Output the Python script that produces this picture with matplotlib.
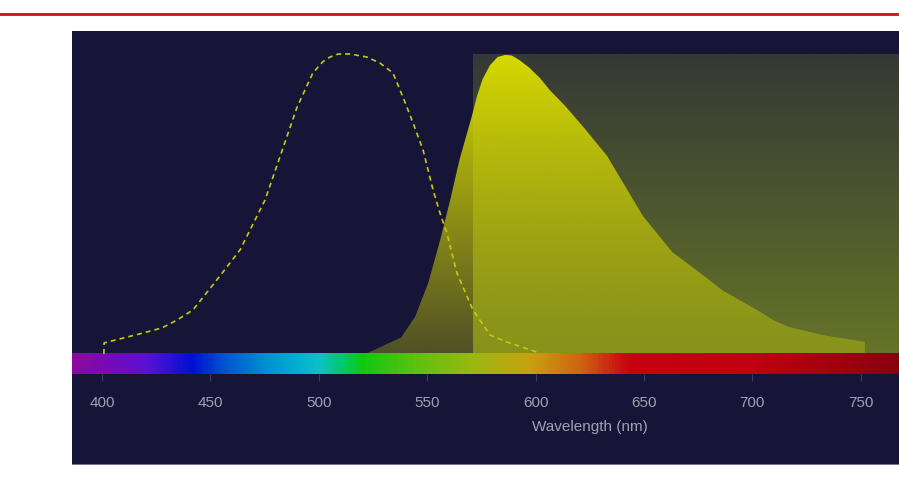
import numpy as np
import matplotlib
matplotlib.use("Agg")
import matplotlib.pyplot as plt
from matplotlib.colors import LinearSegmentedColormap, to_rgb
from matplotlib.patches import Rectangle, Polygon
from matplotlib.lines import Line2D

plt.rcParams['font.family'] = ['Liberation Sans', 'DejaVu Sans']

# emission spectrum (filled)
em_nm = [521.5, 538, 544.5, 550.5, 556, 560.5, 565, 570.5, 573, 575.5, 579, 582.5,
         586, 589, 592.5, 597, 602, 606.5, 614, 622, 633, 640, 649.5, 663, 679,
         686, 703.5, 709.5, 717, 732.5, 752]
em_val = [0.0, 0.055, 0.125, 0.237, 0.38, 0.51, 0.65, 0.79, 0.86, 0.915, 0.963, 0.99,
          0.997, 0.995, 0.98, 0.955, 0.92, 0.88, 0.824, 0.757, 0.66, 0.575, 0.46, 0.34, 0.253,
          0.213, 0.141, 0.113, 0.09, 0.063, 0.04]

# excitation spectrum (dashed)
ex_nm = [400.9, 401, 419, 427.7, 434.6, 442, 447.5, 453, 463.7, 475.2, 482.1, 490,
         497.3, 502, 505.2, 509, 514.4, 522.2, 528.2, 534.2, 538.8, 543.5, 548.1,
         552.7, 555.9, 559.1, 563.7, 571.1, 579, 586.8, 602]
ex_val = [0.0, 0.037, 0.07, 0.087, 0.113, 0.147, 0.197, 0.247, 0.347, 0.513, 0.657, 0.823,
          0.937, 0.975, 0.99, 1.0, 1.0, 0.99, 0.97, 0.937, 0.857, 0.77, 0.68,
          0.547, 0.47, 0.403, 0.27, 0.147, 0.063, 0.04, 0.003]

# long-pass filter
filter_start = 571.1

# visible spectrum strip
spec_nm = [386, 400, 420, 441, 455, 475, 490, 500, 510, 520, 545, 570, 598, 622, 640, 645, 700, 730, 768]
spec_col = ['#8a0a9c', '#7a0ab4', '#5a12d4', '#0010d0', '#0050d0', '#0090d0', '#00b0d0',
            '#10c0c8', '#00c870', '#10c810', '#60c010', '#98b810', '#c8a010', '#d06010',
            '#c81010', '#c80010', '#c00010', '#a80010', '#880010']

ticks = [400, 450, 500, 550, 600, 650, 700, 750]

W, H = 899, 486
fig = plt.figure(figsize=(W / 100, H / 100), dpi=100)
fig.patch.set_facecolor('white')

bg = '#161537'
fig.patches.append(Rectangle((72 / W, 22 / H), 827 / W, 433 / H, transform=fig.transFigure,
                             facecolor=bg, edgecolor='none', zorder=-5))
for yp in (31, 464):
    fig.add_artist(Line2D([72 / W, 1], [(H - yp) / H] * 2, transform=fig.transFigure,
                          color='#5c5c7a', lw=0.6, zorder=-4))
fig.add_artist(Line2D([0, 1], [(H - 14) / H] * 2, transform=fig.transFigure,
                      color='#d0101c', lw=2))

ax = fig.add_axes([72 / W, 112 / H, 827 / W, 343 / H])
ax.set_facecolor(bg)
x0, x1 = 386.2, 767.6
y0, y1 = -0.0667, 1.0767

# filter rectangle gradient
top = np.array(to_rgb('#353935'))
bot = np.array(to_rgb('#667428'))
t = np.linspace(0, 1, 256)[:, None]
grad = top * (1 - t) + bot * t
ax.imshow(grad[:, None, :].repeat(2, axis=1), extent=[filter_start, x1 + 5, 0, 1],
          aspect='auto', zorder=1, interpolation='bilinear')

# emission fill, yellow fading toward bottom
poly = Polygon(np.column_stack([[em_nm[0]] + em_nm + [em_nm[-1]], [0] + em_val + [0]]),
               facecolor='none', edgecolor='none')
ax.add_patch(poly)
rgba = np.zeros((256, 2, 4))
rgba[..., 0] = 215 / 255
rgba[..., 1] = 218 / 255
rgba[..., 2] = 0
alpha = 1.0 - 0.7 * np.linspace(0, 1, 256)
rgba[..., 3] = alpha[:, None]
img = ax.imshow(rgba, extent=[em_nm[0], em_nm[-1], 0, 1], aspect='auto', zorder=2,
                interpolation='bilinear')
img.set_clip_path(poly)

# excitation dashed
ax.plot(ex_nm, ex_val, color='#c8c812', lw=1.2, ls=(0, (3, 2.4)), zorder=4)

# spectrum strip
cmap = LinearSegmentedColormap.from_list(
    'vis', [((n - spec_nm[0]) / (spec_nm[-1] - spec_nm[0]), c) for n, c in zip(spec_nm, spec_col)])
xs = np.linspace(spec_nm[0], spec_nm[-1], 800)
ax.imshow(xs[None, :], cmap=cmap, vmin=spec_nm[0], vmax=spec_nm[-1],
          extent=[spec_nm[0], spec_nm[-1], y0, 0], aspect='auto', zorder=3)

ax.set_xlim(x0, x1)
ax.set_ylim(y0, y1)
for s in ax.spines.values():
    s.set_visible(False)
ax.set_yticks([])
ax.set_xticks(ticks)
ax.tick_params(axis='x', direction='out', length=5, width=0.8, color='#3c3c6e',
               labelcolor='#a0a0b0', labelsize=11, pad=10.5)

fig.text(590 / W, (H - 427) / H, 'Wavelength (nm)', ha='center', va='center',
         color='#a0a0b0', fontsize=11)

fig.savefig('out.png', dpi=100)
